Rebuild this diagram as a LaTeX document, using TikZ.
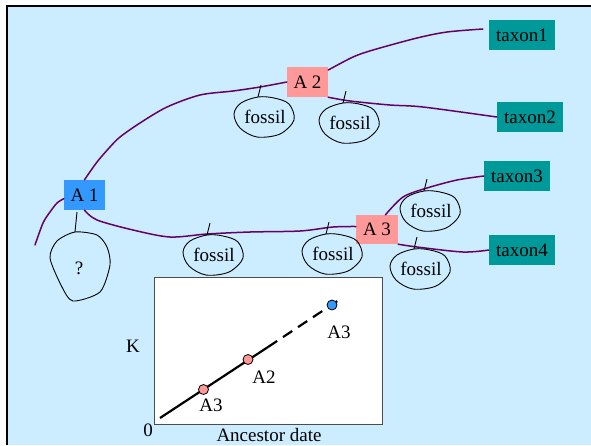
\documentclass[tikz,border=0pt]{standalone}
\usepackage{fontspec}
\setmainfont{Liberation Serif}
\usetikzlibrary{calc}
\definecolor{bgblue}{RGB}{204,236,255}
\definecolor{nodeblue}{RGB}{51,153,255}
\definecolor{nodepink}{RGB}{255,153,153}
\definecolor{nodeteal}{RGB}{0,153,153}
\definecolor{branch}{RGB}{102,0,102}
\newcommand\fossilblob[1]{%
  \draw[blob] plot[smooth cycle,tension=0.55] coordinates {
    ($#1+(-7,-20)$) ($#1+(-24,-14)$) ($#1+(-31,-3)$) ($#1+(-25,11)$)
    ($#1+(-8,20)$) ($#1+(15,17)$) ($#1+(29,3)$) ($#1+(24,-13)$) ($#1+(9,-19)$)};
  \draw[blob] ($#1+(-7,-20)$) -- ++(3,-12);}
\begin{document}
\begin{tikzpicture}[x=1pt,y=-1pt,
  font=\fontsize{19}{22}\selectfont,
  anc/.style={minimum width=41pt,minimum height=30pt,inner sep=0pt},
  taxon/.style={fill=nodeteal,minimum width=66pt,minimum height=30pt,inner sep=0pt},
  branchline/.style={draw=branch,line width=1.5pt,line join=round,line cap=round},
  blob/.style={draw=black,line width=0.9pt,line join=round},
  fossiltext/.style={inner sep=0pt},
  dot/.style={circle,draw=black,line width=0.8pt,minimum size=10pt,inner sep=0pt},
  plotlabel/.style={inner sep=0pt}]
\useasboundingbox (0,0) rectangle (591,445);
% background and frame
\fill[bgblue] (7,6) rectangle (591,445);
\draw[black,line width=2.5pt] (7,445) -- (7,6) -- (591,6);

% ancestor and taxon nodes
\node[anc,fill=nodeblue] (A1) at (84.5,195) {A 1};
\node[anc,fill=nodepink] (A2) at (307.5,82) {A 2};
\node[anc,fill=nodepink,minimum width=42pt,minimum height=29pt] (A3) at (377,229.5) {A 3};
\node[taxon] (t1) at (522,35) {taxon1};
\node[taxon] (t2) at (530,117) {taxon2};
\node[taxon] (t3) at (517,176) {taxon3};
\node[taxon] (t4) at (522,250) {taxon4};
\coordinate (a1end) at (35,245);

% branches
\draw[branchline] plot[smooth,tension=0.5] coordinates {(A1.north) (97,162) (110,147) (120,137) (140,123) (167,107) (200,95) (233,91) (260,87) (A2.west)};
\draw[branchline] plot[smooth,tension=0.5] coordinates {(A2.30) (353,57) (373,50) (417,38) (447,32) ($(t1.west)+(-6,-6)$)};
\draw[branchline] plot[smooth,tension=0.5] coordinates {(A2.south east) (350,101) (390,105) (423,107) (t2.west)};
\draw[branchline] plot[smooth,tension=0.5] coordinates {(A1.190) (57,203) (50,212) (43,223) (a1end)};
\draw[branchline] plot[smooth,tension=0.5] coordinates {(A1.south) (97,220) (133,230) (170,237) (207,234) (250,232) (300,231) (333,227) ($(A3.west)+(0,-3)$)};
\draw[branchline] plot[smooth,tension=0.5] coordinates {(A3.60) (403,197) (427,188) (457,180) (t3.west)};
\draw[branchline] plot[smooth,tension=0.5] coordinates {(A3.south east) (417,247) (463,252) (t4.west)};

% fossils
\node[fossiltext] (f1) at (265,117) {fossil};
\node[fossiltext] (f2) at (350,123) {fossil};
\node[fossiltext] (f3) at (431,211) {fossil};
\node[fossiltext] (f4) at (421,269) {fossil};
\node[fossiltext] (f5) at (333,254) {fossil};
\node[fossiltext] (f6) at (214,255) {fossil};
\fossilblob{(f1)}
\fossilblob{(f2)}
\fossilblob{(f3)}
\fossilblob{(f4)}
\fossilblob{(f5)}
\fossilblob{(f6)}
\node[fossiltext] (q) at (79,268) {?};
\draw[blob] plot[smooth cycle,tension=0.45] coordinates {(75,232) (57,241) (50,258) (62,287) (73,301) (100,292) (110,265) (107,247) (97,235)};
\draw[blob] (75,232) -- (77,212);

% inset plot
\node[draw=black!70,fill=white,line width=0.9pt,minimum width=228pt,minimum height=147pt,inner sep=0pt] (plot) at (268,350.5) {};
\coordinate (l0) at (160,418);
\coordinate (l1) at (268,347);
\coordinate (l2) at (342,298);
\draw[line width=2.2pt] (l0) -- (l1);
\draw[line width=2.2pt,dash pattern=on 11pt off 7pt] (l1) -- (l2);
\node[dot,fill=nodepink] (p1) at (203.5,389.5) {};
\node[dot,fill=nodepink] (p2) at (248,359.5) {};
\node[dot,fill=nodeblue] (p3) at (332,305) {};
\node[plotlabel] at (211,405) {A3};
\node[plotlabel] at (264,377) {A2};
\node[plotlabel] at (339,332) {A3};
\node[plotlabel] at (133,346) {K};
\node[plotlabel] at (148,430) {0};
\node[plotlabel] at (269,434.5) {Ancestor date};
\end{tikzpicture}
\end{document}
